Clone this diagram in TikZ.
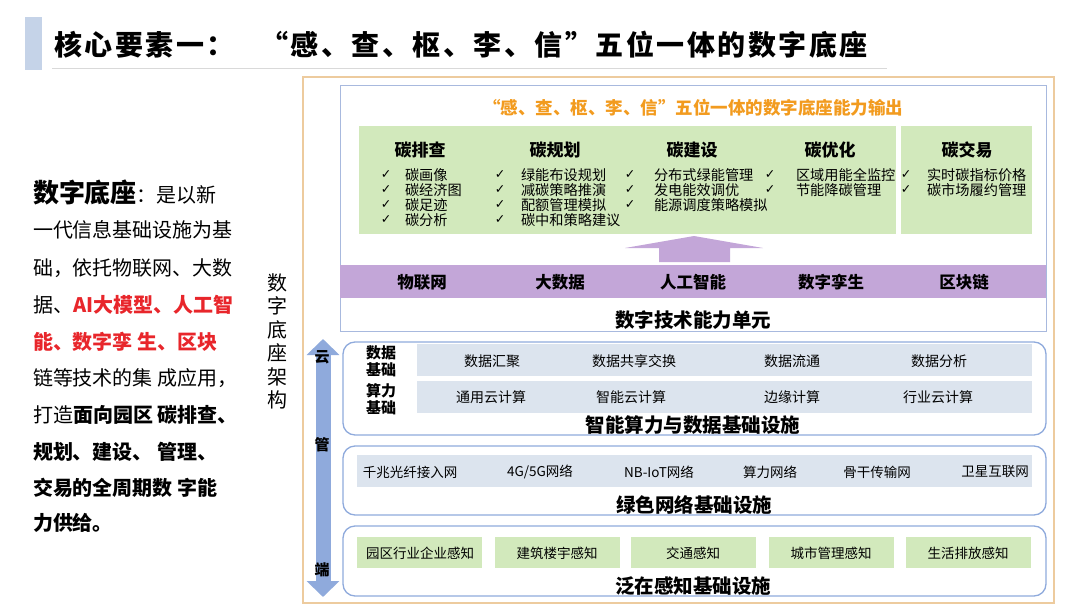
\documentclass[tikz,border=0pt]{standalone}
\usepackage{fontspec}
\usepackage{xcolor}
\setmainfont{Noto Sans CJK SC}
\newfontfamily\symfont{DejaVu Sans}
\usetikzlibrary{arrows.meta}
\definecolor{barblue}{HTML}{C5D3E8}
\definecolor{rulegray}{HTML}{D9D9D9}
\definecolor{frametan}{HTML}{EDCB9E}
\definecolor{panelblue}{HTML}{A8B9DE}
\definecolor{headorange}{HTML}{F29B1F}
\definecolor{cellgreen}{HTML}{D2E9BC}
\definecolor{bandpurple}{HTML}{C3A6D8}
\definecolor{rowblue}{HTML}{DCE4EE}
\definecolor{layerblue}{HTML}{8FAADC}
\definecolor{textred}{HTML}{E8262B}
\newcommand{\fsz}[1]{\fontsize{#1}{#1}\selectfont}
\tikzset{
        txt/.style={inner sep=0pt, outer sep=0pt},
        title_text/.style={txt, anchor=west, font=\fsz{28}\bfseries\addfontfeature{LetterSpace=9}},
        body_text/.style={txt, anchor=west, font=\fsz{20}},
        vert_text/.style={txt, font=\fsz{20}},
        head_text/.style={txt, font=\fsz{17}\bfseries},
        chk_text/.style={txt, font=\symfont\fsz{12.5}},
        item_text/.style={txt, anchor=west, font=\fsz{14.2}},
        band_text/.style={txt, font=\fsz{16.5}\bfseries},
        cap_text/.style={txt, font=\fsz{19.5}\bfseries},
        row_text/.style={txt, font=\fsz{14}},
        net_text/.style={txt, font=\fsz{13.5}},
        side_label/.style={txt, align=center, font=\fontsize{15}{17}\selectfont\bfseries},
        axis_label/.style={txt, font=\fsz{15}\bfseries},
        layer_box/.style={draw=layerblue, line width=1.3pt, rounded corners=12pt}
    }

\begin{document}
\begin{tikzpicture}[x=1pt, y=-1pt]
    \useasboundingbox (0,0) rectangle (1080,608);
    % title
    \fill[barblue] (25,17) rectangle (42,70);
    \draw[rulegray, line width=0.8pt] (52,68) -- (887,68);
    \node[title_text] (title_a) at (54,45) {核心要素一：};
    \node[title_text] (title_b) at (260,45) {“感、查、枢、李、信”五位一体的数字底座};

    % left description
    \node[body_text] (side_1) at (33,193) {{\fsz{26}\bfseries 数字底座}：是以新};
    \node[body_text] (side_2) at (33,230) {一代信息基础设施为基};
    \node[body_text] (side_3) at (33,268) {础，依托物联网、大数};
    \node[body_text] (side_4) at (33,305) {据、\textcolor{textred}{\bfseries AI大模型、人工智}};
    \node[body_text, text=textred, font=\fsz{20}\bfseries] (side_5) at (33,342) {能、数字孪 生、区块};
    \node[body_text] (side_6) at (33,378) {链等技术的集 成应用，};
    \node[body_text] (side_7) at (33,415) {打造\textbf{面向园区 碳排查、}};
    \node[body_text, font=\fsz{20}\bfseries] (side_8) at (33,452) {规划、建设、 管理、};
    \node[body_text, font=\fsz{20}\bfseries] (side_9) at (33,488) {交易的全周期数 字能};
    \node[body_text, font=\fsz{20}\bfseries] (side_10) at (33,523) {力供给。};
    \foreach \ch [count=\k] in {数,字,底,座,架,构}
        \node[vert_text] (vlab\k) at (277,{259.5+23.4*\k}) {\ch};

    % frames
    \draw[frametan, line width=1.2pt] (303,77) rectangle (1054,603);
    \draw[panelblue, line width=1pt] (340,85) rectangle (1046,331);

    % capability output
    \node[head_text, text=headorange, font=\fsz{17.5}\bfseries] (out_head) at (693,108)
        {“感、查、枢、李、信”五位一体的数字底座能力输出};
    \fill[cellgreen] (359,126) rectangle (896,234);
    \fill[cellgreen] (901,126) rectangle (1032,234);
    \node[head_text] (h_check) at (420,150) {碳排查};
    \node[head_text] (h_plan) at (555,150) {碳规划};
    \node[head_text] (h_build) at (692,150) {碳建设};
    \node[head_text] (h_opt) at (830,150) {碳优化};
    \node[head_text] (h_trade) at (967,150) {碳交易};
    \foreach \txt [count=\k] in {碳画像,碳经济图,碳足迹,碳分析} {
        \node[chk_text] (ck_a\k) at (386,{160.1+14.9*\k}) {✓};
        \node[item_text] (it_a\k) at (405,{160.1+14.9*\k}) {\txt};
    }
    \foreach \txt [count=\k] in {绿能布设规划,减碳策略推演,配额管理模拟,碳中和策略建议} {
        \node[chk_text] (ck_b\k) at (500,{160.1+14.9*\k}) {✓};
        \node[item_text] (it_b\k) at (521,{160.1+14.9*\k}) {\txt};
    }
    \foreach \txt [count=\k] in {分布式绿能管理,发电能效调优,能源调度策略模拟} {
        \node[chk_text] (ck_c\k) at (630,{160.1+14.9*\k}) {✓};
        \node[item_text] (it_c\k) at (654,{160.1+14.9*\k}) {\txt};
    }
    \foreach \txt [count=\k] in {区域用能全监控,节能降碳管理} {
        \node[chk_text] (ck_d\k) at (770,{160.1+14.9*\k}) {✓};
        \node[item_text] (it_d\k) at (796,{160.1+14.9*\k}) {\txt};
    }
    \foreach \txt [count=\k] in {实时碳指标价格,碳市场履约管理} {
        \node[chk_text] (ck_e\k) at (906,{160.1+14.9*\k}) {✓};
        \node[item_text] (it_e\k) at (927,{160.1+14.9*\k}) {\txt};
    }

    % technology units
    \fill[bandpurple] (659,262) -- (659,248) -- (625,248) -- (694,236) -- (763,248)
        -- (730,248) -- (730,262) -- cycle;
    \fill[bandpurple] (340,265) rectangle (1046,298);
    \node[band_text] (u_iot) at (422,282) {物联网};
    \node[band_text] (u_data) at (560,282) {大数据};
    \node[band_text] (u_ai) at (693,282) {人工智能};
    \node[band_text] (u_twin) at (831,282) {数字孪生};
    \node[band_text] (u_chain) at (964,282) {区块链};
    \node[cap_text] (cap_units) at (693,320) {数字技术能力单元};

    % cloud - pipe - edge axis
    \coordinate (axis_top) at (323,339);
    \coordinate (axis_bot) at (323,597);
    \draw[layerblue, line width=15pt,
        {Triangle[width=32pt,length=16pt]}-{Triangle[width=32pt,length=16pt]}]
        (axis_top) -- (axis_bot);
    \node[axis_label] (ax_cloud) at (322,357) {云};
    \node[axis_label] (ax_pipe) at (322,445) {管};
    \node[axis_label] (ax_edge) at (322,570) {端};

    % computing and data layer
    \draw[layer_box] (343,342) rectangle (1046,435);
    \fill[rowblue] (417,344) rectangle (1032,376);
    \fill[rowblue] (417,381) rectangle (1032,413);
    \node[side_label] (lab_data) at (381,361) {数据\\基础};
    \node[side_label] (lab_comp) at (381,399) {算力\\基础};
    \node[row_text] (d_1) at (492,361) {数据汇聚};
    \node[row_text] (d_2) at (634,361) {数据共享交换};
    \node[row_text] (d_3) at (792,361) {数据流通};
    \node[row_text] (d_4) at (939,361) {数据分析};
    \node[row_text] (c_1) at (491,397) {通用云计算};
    \node[row_text] (c_2) at (631,397) {智能云计算};
    \node[row_text] (c_3) at (792,397) {边缘计算};
    \node[row_text] (c_4) at (938,397) {行业云计算};
    \node[cap_text] (cap_comp) at (693,425) {智能算力与数据基础设施};

    % network layer
    \draw[layer_box] (343,446) rectangle (1046,515);
    \fill[rowblue] (357,455) rectangle (1032,487);
    \node[net_text] (n_1) at (410,472) {千兆光纤接入网};
    \node[net_text] (n_2) at (540,472) {4G/5G网络};
    \node[net_text] (n_3) at (659,472) {NB-IoT网络};
    \node[net_text] (n_4) at (770,472) {算力网络};
    \node[net_text] (n_5) at (877,472) {骨干传输网};
    \node[net_text] (n_6) at (995,472) {卫星互联网};
    \node[cap_text] (cap_net) at (694,505) {绿色网络基础设施};

    % sensing layer
    \draw[layer_box] (343,526) rectangle (1046,596);
    \fill[cellgreen] (357,537) rectangle (482,568);
    \fill[cellgreen] (495,537) rectangle (620,568);
    \fill[cellgreen] (631,537) rectangle (756,568);
    \fill[cellgreen] (769,537) rectangle (894,568);
    \fill[cellgreen] (906,537) rectangle (1031,568);
    \node[net_text] (s_1) at (420,553) {园区行业企业感知};
    \node[net_text] (s_2) at (557,553) {建筑楼宇感知};
    \node[net_text] (s_3) at (693,553) {交通感知};
    \node[net_text] (s_4) at (831,553) {城市管理感知};
    \node[net_text] (s_5) at (968,553) {生活排放感知};
    \node[cap_text] (cap_sense) at (693,586) {泛在感知基础设施};
\end{tikzpicture}
\end{document}
